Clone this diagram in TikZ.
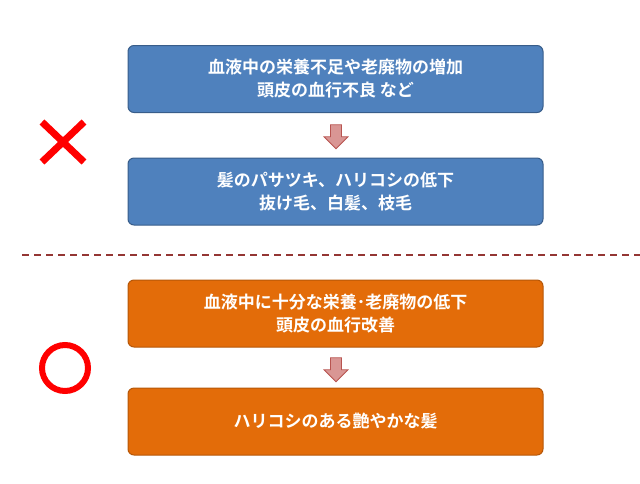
\documentclass[tikz,border=0pt]{standalone}
\usepackage{fontspec}
\newfontfamily\cjk{Noto Sans CJK JP}[BoldFont={* Bold}]
\usetikzlibrary{shapes.arrows}
\definecolor{bfill}{HTML}{4F81BD}\definecolor{bdraw}{HTML}{385D8A}
\definecolor{ofill}{HTML}{E36C09}\definecolor{odraw}{HTML}{B65708}
\definecolor{afill}{HTML}{D99694}\definecolor{adraw}{HTML}{B85450}
\definecolor{dline}{HTML}{943634}
\tikzset{
 box/.style={rounded corners=6pt,line width=1pt,minimum width=415pt,minimum height=67pt,align=center,text=white,font=\cjk\bfseries\fontsize{17}{23}\selectfont},
 bluebox/.style={box,fill=bfill,draw=bdraw},
 orbox/.style={box,fill=ofill,draw=odraw},
 darrow/.style={single arrow,shape border rotate=270,fill=afill,draw=adraw,line width=0.8pt,minimum height=24pt,minimum width=24pt,single arrow head extend=4pt,inner sep=3pt}
}
\begin{document}
\begin{tikzpicture}[x=1pt,y=-1pt]
\useasboundingbox (0,0) rectangle (640,483);
\node[bluebox] (b1) at (335.5,79) {血液中の栄養不足や老廃物の増加\\頭皮の血行不良 など};
\node[bluebox] (b2) at (335.5,191.5) {髪のパサツキ、ハリコシの低下\\抜け毛、白髪、枝毛};
\node[orbox] (b3) at (335.5,313.5) {血液中に十分な栄養･老廃物の低下\\頭皮の血行改善};
\node[orbox] (b4) at (335.5,421.5) {ハリコシのある艶やかな髪};
\node[darrow] (a1) at (336,134) {};
\node[darrow] (a2) at (336,367) {};
\coordinate (l1) at (22,255); \coordinate (l2) at (640,255);
\draw[dline,line width=2pt,dash pattern=on 7pt off 5pt] (l1) -- (l2);
\coordinate (x1) at (42,122); \coordinate (x2) at (84,162);
\coordinate (x3) at (84,122); \coordinate (x4) at (42,162);
\draw[red,line width=7pt] (x1) -- (x2) (x3) -- (x4);
\node[circle,draw=red,line width=6pt,minimum size=46pt] (o) at (65,368) {};
\end{tikzpicture}
\end{document}
